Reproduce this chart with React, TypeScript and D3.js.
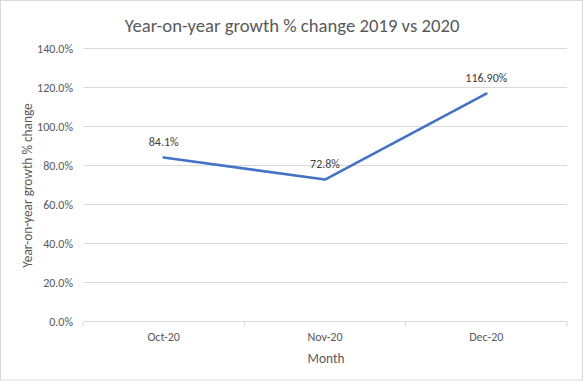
import React from "react";
import * as d3 from "d3";

const months = ["Oct-20", "Nov-20", "Dec-20"];
const growth = [84.1, 72.8, 116.9];
const dataLabels = ["84.1%", "72.8%", "116.90%"];
const yTicks = [0, 20, 40, 60, 80, 100, 120, 140];

const W = 584;
const H = 381;
const FONT = "Calibri, Carlito, 'Liberation Sans', Arial, sans-serif";
const TEXT = "#595959";
const GRID = "#d9d9d9";

export default function App() {
  const margin = { left: 83, right: 17, top: 48.5, bottom: 59.5 };
  const x = d3
    .scaleBand<string>()
    .domain(months)
    .range([margin.left, W - margin.right])
    .paddingInner(0)
    .paddingOuter(0);
  const y = d3.scaleLinear().domain([0, 140]).range([H - margin.bottom, margin.top]);
  const cx = (m: string) => (x(m) as number) + x.bandwidth() / 2;
  const line = d3
    .line<number>()
    .x((_, i) => cx(months[i]))
    .y((d) => y(d));

  const boundaries = [...months.map((m) => x(m) as number), W - margin.right];

  return (
    <svg
      width={W}
      height={H}
      style={{ position: "absolute", left: 0, top: 0, background: "#fff" }}
      fontFamily={FONT}
    >
      <rect x={0.5} y={0.5} width={W - 2} height={H - 1.5} fill="#fff" stroke={GRID} />
      <text x={292} y={25} dy="0.35em" textAnchor="middle" fontSize={18.7} fill={TEXT}>
        Year-on-year growth % change 2019 vs 2020
      </text>
      {yTicks.map((t) => (
        <g key={t}>
          <line
            x1={margin.left}
            x2={W - margin.right}
            y1={y(t)}
            y2={y(t)}
            stroke={GRID}
            strokeWidth={1}
          />
          <text x={73} y={y(t)} dy="0.35em" textAnchor="end" fontSize={12} fill={TEXT}>
            {t.toFixed(1)}%
          </text>
        </g>
      ))}
      {boundaries.map((b, i) => (
        <line key={i} x1={b} x2={b} y1={y(0)} y2={y(0) + 5} stroke={GRID} />
      ))}
      {months.map((m) => (
        <text key={m} x={cx(m)} y={336.5} dy="0.35em" textAnchor="middle" fontSize={12} fill={TEXT}>
          {m}
        </text>
      ))}
      <text x={326} y={358} dy="0.35em" textAnchor="middle" fontSize={13.33} fill={TEXT}>
        Month
      </text>
      <text
        transform={`translate(27,${185.5}) rotate(-90)`}
        dy="0.35em"
        textAnchor="middle"
        fontSize={13.33}
        fill={TEXT}
      >
        Year-on-year growth % change
      </text>
      <path
        d={line(growth) || ""}
        fill="none"
        stroke="#4472C4"
        strokeWidth={2.6}
        strokeLinejoin="round"
        strokeLinecap="round"
      />
      {growth.map((v, i) => (
        <text
          key={i}
          x={cx(months[i])}
          y={y(v) - 15.5}
          dy="0.35em"
          textAnchor="middle"
          fontSize={12}
          fill="#404040"
        >
          {dataLabels[i]}
        </text>
      ))}
    </svg>
  );
}
